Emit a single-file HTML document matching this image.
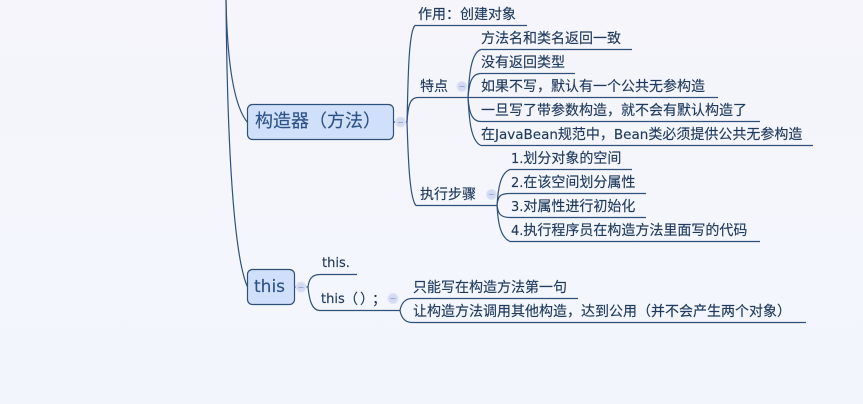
<!DOCTYPE html>
<html><head><meta charset="utf-8"><style>
html,body{margin:0;padding:0;background:#f4f6fb;width:863px;height:404px;overflow:hidden}
svg{display:block}
text{font-family:"Noto Sans CJK SC","WenQuanYi Zen Hei",sans-serif;font-size:14px;fill:#1f3a5c;stroke:#1f3a5c;stroke-width:.15;text-spacing-trim:space-all;font-kerning:none}
.l{font-family:"DejaVu Sans",sans-serif;font-size:13px}
.j{font-family:"DejaVu Sans",sans-serif;font-size:13.5px}
</style></head><body>
<svg width="863" height="404" viewBox="0 0 863 404" xmlns="http://www.w3.org/2000/svg">
<defs><linearGradient id="g" x1="0" y1="0" x2="0" y2="1"><stop offset="0" stop-color="#f5f5fb"/><stop offset="1" stop-color="#f2f6fc"/></linearGradient></defs>
<rect width="863" height="404" fill="url(#g)"/>
<g fill="none" stroke="#2f5078" stroke-width="1.2">
<path d="M226 0C227 50 232 105 248 123"/>
<path d="M226 0C227 120 232 255 248 288"/>
<path d="M394 122H407"/>
<path d="M407 122C408 90 408 32 415 25.500H527"/>
<path d="M407 122C408 108 409 97.500 418 97.500H468"/>
<path d="M407 122C408 150 409 198 416 205.500H497"/>
<path d="M468 97.500C469 80 470 53 481 49.500H632"/>
<path d="M468 97.500C469 87 470 73.500 481 73.500H575"/>
<path d="M468 97.500H718"/>
<path d="M468 97.500C469 108 470 121.500 481 121.500H760"/>
<path d="M468 97.500C469 115 470 141 481 145.500H813"/>
<path d="M497 205.500C498 190 500 173 510 169.500H632"/>
<path d="M497 205.500C498 197 499 193.500 510 193.500H646"/>
<path d="M497 205.500C498 212 499 217.500 510 217.500H646"/>
<path d="M497 205.500C498 222 500 237 510 241.500H760"/>
<path d="M295 287H308"/>
<path d="M308 287C309 280 311 274.500 320 274.500H357"/>
<path d="M308 287C309 297 311 310.500 320 310.500H400"/>
<path d="M400 310.500C401 305 404 298.500 412 298.500H578"/>
<path d="M400 310.500C401 316 404 322.500 412 322.500H806"/>
</g>
<rect x="247.500" y="104.500" width="146" height="35" rx="5" fill="#d0e0fb" stroke="#2f5078" stroke-width="1.2"/>
<rect x="247.500" y="269.500" width="47" height="35" rx="5" fill="#d0e0fb" stroke="#2f5078" stroke-width="1.2"/>
<g fill="#d3dbf3" stroke="#dfe4f5" stroke-width="1">
<circle cx="400.500" cy="122" r="5"/><circle cx="462" cy="86.500" r="5"/><circle cx="491.500" cy="194.500" r="5"/><circle cx="301" cy="287" r="5"/><circle cx="393" cy="298.500" r="5"/>
</g>
<g stroke="#9dabce" stroke-width="1"><path d="M398 122.500h5M459.500 86.500h5M489 194.500h5M298.500 287.500h5M390.500 298.500h5"/></g>
<text x="255" y="127" style="font-size:18px;fill:#2c5285;stroke:#2c5285">构造器（方法）</text>
<text x="254" y="292" style="font-family:'DejaVu Sans',sans-serif;font-size:17px;fill:#2c5285;stroke:#2c5285">this</text>
<text x="418" y="19">作用：创建对象</text>
<text x="420" y="91">特点</text>
<text x="420" y="199">执行步骤</text>
<text x="481" y="43">方法名和类名返回一致</text>
<text x="481" y="67">没有返回类型</text>
<text x="481" y="91">如果不写，默认有一个公共无参构造</text>
<text x="481" y="115">一旦写了带参数构造，就不会有默认构造了</text>
<text x="481" y="139">在<tspan class="j">JavaBean</tspan>规范中，<tspan class="j">Bean</tspan>类必须提供公共无参构造</text>
<text x="511" y="163"><tspan class="l">1.</tspan>划分对象的空间</text>
<text x="511" y="187"><tspan class="l">2.</tspan>在该空间划分属性</text>
<text x="511" y="211"><tspan class="l">3.</tspan>对属性进行初始化</text>
<text x="511" y="235"><tspan class="l">4.</tspan>执行程序员在构造方法里面写的代码</text>
<text x="322" y="267" class="l">this.</text>
<text x="321" y="303"><tspan class="l">this</tspan></text>
<text x="344" y="304">（</text>
<text x="360" y="304">）</text>
<text x="372" y="304">；</text>
<text x="413" y="292">只能写在构造方法第一句</text>
<text x="413" y="316">让构造方法调用其他构造，达到公用（并不会产生两个对象）</text>
</svg>
</body></html>
